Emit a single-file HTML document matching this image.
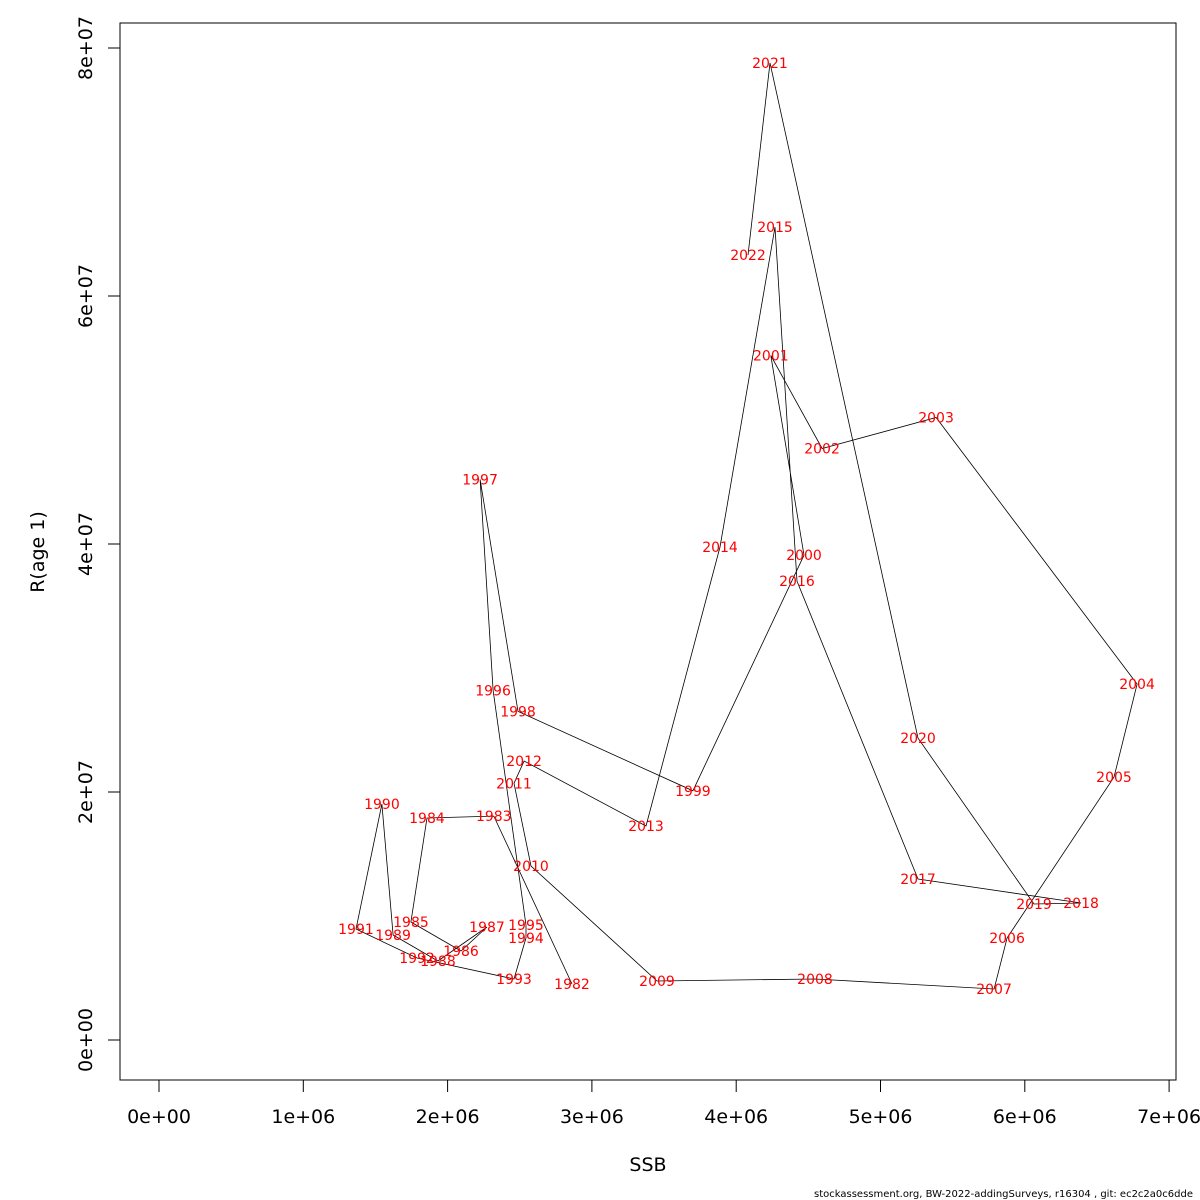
<!DOCTYPE html>
<html><head><meta charset="utf-8"><style>
body{margin:0;background:#fff}
svg{display:block;font-family:"DejaVu Sans","Liberation Sans",sans-serif}
</style></head><body>
<svg id="chart" width="1200" height="1200" viewBox="0 0 1200 1200">
<rect x="0" y="0" width="1200" height="1200" fill="#fff"/>
<rect x="120" y="23" width="1056" height="1057" fill="none" stroke="#000" stroke-width="1"/>
<g id="axes"></g>
<g id="marks"></g>
<text x="648" y="1171" font-size="19" text-anchor="middle">SSB</text>
<text transform="translate(44,552) rotate(-90)" font-size="19" text-anchor="middle">R(age 1)</text>
<text x="1193" y="1197" font-size="10" text-anchor="end">stockassessment.org, BW-2022-addingSurveys, r16304 , git: ec2c2a0c6dde</text>
</svg>
<script>
const years=[1982,1983,1984,1985,1986,1987,1988,1989,1990,1991,1992,1993,1994,1995,1996,1997,1998,1999,2000,2001,2002,2003,2004,2005,2006,2007,2008,2009,2010,2011,2012,2013,2014,2015,2016,2017,2018,2019,2020,2021,2022];
const ssb=[2.862e6,2.32e6,1.857e6,1.746e6,2.093e6,2.273e6,1.933e6,1.622e6,1.545e6,1.365e6,1.788e6,2.46e6,2.543e6,2.543e6,2.315e6,2.225e6,2.488e6,3.70e6,4.47e6,4.24e6,4.595e6,5.385e6,6.778e6,6.618e6,5.877e6,5.787e6,4.546e6,3.451e6,2.578e6,2.46e6,2.53e6,3.375e6,3.888e6,4.269e6,4.421e6,5.26e6,6.39e6,6.064e6,5.26e6,4.234e6,4.082e6];
const rec=[4.52e6,18.06e6,17.9e6,9.52e6,7.18e6,9.11e6,6.37e6,8.47e6,19.03e6,8.95e6,6.61e6,4.92e6,8.23e6,9.27e6,28.2e6,45.2e6,26.5e6,20.1e6,39.1e6,55.2e6,47.7e6,50.2e6,28.7e6,21.2e6,8.23e6,4.11e6,4.92e6,4.76e6,14.03e6,20.7e6,22.5e6,17.26e6,39.76e6,65.56e6,37.0e6,12.98e6,11.05e6,10.97e6,24.35e6,78.8e6,63.3e6];
const xTicks=[0,1e6,2e6,3e6,4e6,5e6,6e6,7e6];
const xTickLabels=["0e+00","1e+06","2e+06","3e+06","4e+06","5e+06","6e+06","7e+06"];
const yTicks=[0,2e7,4e7,6e7,8e7];
const yTickLabels=["0e+00","2e+07","4e+07","6e+07","8e+07"];
const NS="http://www.w3.org/2000/svg";
function sx(v){return 159+v*144.3e-6;}
function sy(v){return 1040-v*12.4e-6;}
function mk(t,a,p){const e=document.createElementNS(NS,t);for(const k in a)e.setAttribute(k,a[k]);p.appendChild(e);return e;}
const ax=document.getElementById('axes'),mg=document.getElementById('marks');
const xl=mk('line',{x1:sx(0),x2:sx(7e6),y1:1080,y2:1080,stroke:'#000'},ax);


xTicks.forEach((v,i)=>{
 const t=mk('line',{x1:sx(v),x2:sx(v),y1:1080,y2:1092,stroke:'#000'},ax);
 
 
 const l=mk('text',{x:sx(v),y:1123,'font-size':19,'text-anchor':'middle'},ax);
 l.textContent=xTickLabels[i];
 
 
});
const yl=mk('line',{x1:120,x2:120,y1:sy(0),y2:sy(8e7),stroke:'#000'},ax);


yTicks.forEach((v,i)=>{
 const t=mk('line',{x1:108,x2:120,y1:sy(v),y2:sy(v),stroke:'#000'},ax);
 
 
 const l=mk('text',{transform:`translate(92,${sy(v)}) rotate(-90)`,'font-size':19,'text-anchor':'middle'},ax);
 l.textContent=yTickLabels[i];
 
 
});
const pts=ssb.map((s,i)=>sx(s).toFixed(1)+','+sy(rec[i]).toFixed(1)).join(' ');
const pl=mk('polyline',{points:pts,fill:'none',stroke:'#000','stroke-width':0.8},mg);


years.forEach((y,i)=>{
 const l=mk('text',{x:sx(ssb[i]),y:sy(rec[i])+5,'font-size':14,fill:'#ff0000','text-anchor':'middle'},mg);
 l.textContent=y;
 
 
});
</script>
</body></html>
